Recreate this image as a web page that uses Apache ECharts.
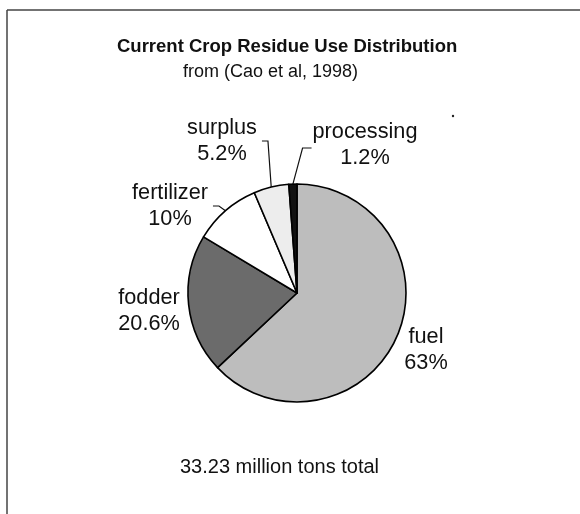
<!DOCTYPE html>
<html>
<head>
<meta charset="utf-8">
<script src="https://cdn.jsdelivr.net/npm/echarts@6/dist/echarts.min.js"></script>
<style>
	html, body { margin: 0; padding: 0; background: #fff; }
	#id_pie_chart { width: 580px; height: 514px; }
</style>
</head>
<body>
<div id="id_pie_chart"></div>
<script>
// data
var uses = ["fuel", "fodder", "fertilizer", "surplus", "processing"];
var shares = [63, 20.6, 10, 5.2, 1.2];
var totalNote = "33.23 million tons total";

var colors = ["#bdbdbd", "#6b6b6b", "#ffffff", "#ededed", "#111111"];
// where each label block sits (centre of the text block)
var labelSpots = {
	fuel: [426, 350],
	fodder: [149, 311],
	fertilizer: [170, 206],
	surplus: [222, 141],
	processing: [365, 145]
};
var withLine = { fertilizer: "right", surplus: "right", processing: "left" };

var pie_chart = echarts.init(document.getElementById("id_pie_chart"), null, { renderer: "canvas" });

var fontName = "Liberation Sans, Arial, sans-serif";

var pieData = uses.map(function (name, i) {
	return {
		name: name,
		value: shares[i],
		itemStyle: { color: colors[i] },
		labelLine: { show: !!withLine[name] }
	};
});

option = {
	animation: false,
	title: [
		{
			text: "Current Crop Residue Use Distribution",
			left: 117,
			top: 38,
			padding: 0,
			textStyle: { fontFamily: fontName, fontSize: 18.5, fontWeight: "bold", color: "#111", lineHeight: 18 }
		},
		{
			text: "from (Cao et al, 1998)",
			left: 183,
			top: 63,
			padding: 0,
			textStyle: { fontFamily: fontName, fontSize: 18, fontWeight: "normal", color: "#111", lineHeight: 18 }
		},
		{
			text: totalNote,
			left: 180,
			top: 457,
			padding: 0,
			textStyle: { fontFamily: fontName, fontSize: 20, fontWeight: "normal", color: "#111", lineHeight: 20 }
		}
	],
	graphic: [
		// the frame of the scanned page
		{ type: "line", shape: { x1: 7, y1: 10, x2: 580, y2: 10 }, style: { stroke: "#444", lineWidth: 1.5 } },
		{ type: "line", shape: { x1: 7, y1: 10, x2: 7, y2: 514 }, style: { stroke: "#444", lineWidth: 1.5 } },
		{ type: "circle", shape: { cx: 453, cy: 116, r: 1.2 }, style: { fill: "#222" } }
	],
	series: [
		{
			type: "pie",
			center: [297, 293],
			radius: 109,
			startAngle: 90,
			clockwise: true,
			avoidLabelOverlap: false,
			data: pieData,
			itemStyle: { borderColor: "#000", borderWidth: 1.6 },
			label: {
				show: true,
				position: "outside",
				formatter: "{b}\n{c}%",
				fontFamily: fontName,
				fontSize: 21.7,
				lineHeight: 26,
				color: "#111"
			},
			labelLine: {
				show: true,
				lineStyle: { color: "#111", width: 1.2 }
			},
			emphasis: { disabled: true },
			labelLayout: function (params) {
				var name = uses[params.dataIndex];
				var spot = labelSpots[name];
				var out = { x: spot[0], y: spot[1], align: "center", verticalAlign: "middle" };
				var side = withLine[name];
				if (side && params.labelLinePoints) {
					var anchor = params.labelLinePoints[0];
					var half = params.labelRect.width / 2;
					var endPt, elbow;
					if (side === "right") {
						endPt = [spot[0] + half + 5, spot[1]];
						elbow = [endPt[0] + 6, spot[1]];
					} else {
						endPt = [spot[0] - half - 1, spot[1] + 3];
						elbow = [endPt[0] - 9, spot[1] + 3];
					}
					out.labelLinePoints = [anchor, elbow, endPt];
				}
				return out;
			}
		}
	]
};
pie_chart.setOption(option);
</script>
</body>
</html>
